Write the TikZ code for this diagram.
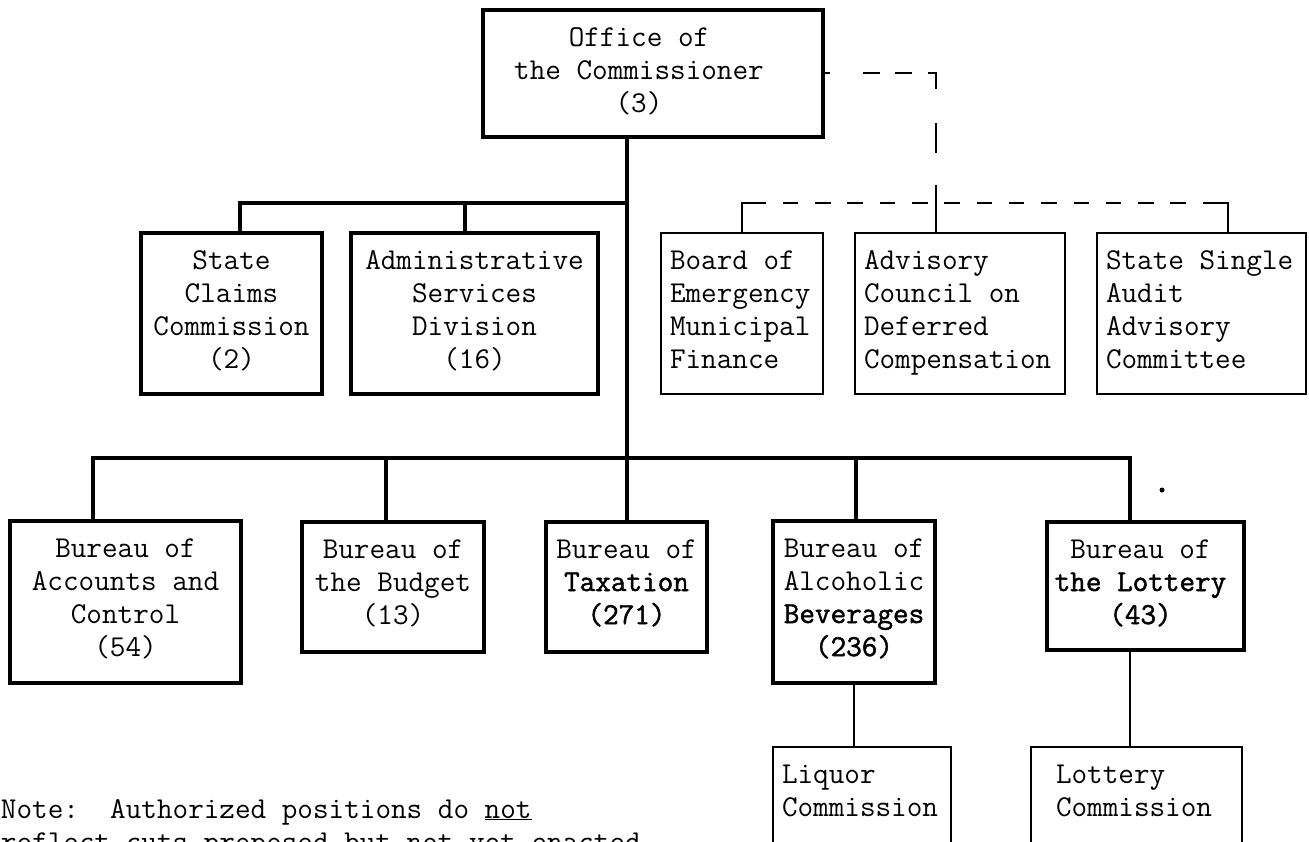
\documentclass[tikz,border=0pt]{standalone}
\usepackage{fontspec}
\newfontfamily\chartfont{Latin Modern Mono}[AutoFakeBold=1.6]
% box contents: width, height, shift (centred) or left pad (ragged), text
\newcommand{\boxctr}[4]{\parbox[t][#2pt][t]{#1pt}{\centering\rightskip=#3pt plus 1fil\relax\rule{0pt}{36pt}#4\par}}
\newcommand{\boxlft}[4]{\parbox[t][#2pt][t]{#1pt}{\raggedright\leftskip=#3pt\relax\rule{0pt}{36pt}#4\par}}
\begin{document}
\begin{tikzpicture}[x=1pt,y=-1pt,
  every node/.style={inner sep=0pt, outer sep=0pt},
  txt/.style={font=\chartfont\fontsize{30.3}{33}\selectfont},
  unitbox/.style={txt, draw, anchor=north west},
  heavybox/.style={unitbox, line width=4.5pt},
  lightbox/.style={unitbox, line width=2.2pt},
  heavyline/.style={line width=4.5pt},
  lightline/.style={line width=2pt},
  dashline/.style={line width=2.2pt, dash pattern=on 15.5pt off 16.8pt, dash phase=15.5pt},
]
\fill[white] (0,0) rectangle (1309,841);
\useasboundingbox (0,0) rectangle (1309,841);

% top office
\node[heavybox] (office) at (483,10) {\boxctr{340}{127}{28}{Office of\\the Commissioner\\(3)}};

% upper row
\node[heavybox] (sc)  at (141,233) {\boxctr{181}{161}{0}{State\\Claims\\Commission\\(2)}};
\node[heavybox] (adm) at (351,233) {\boxctr{247}{161}{0}{Administrative\\Services\\Division\\(16)}};
\node[lightbox] (board) at (661,233) {\boxlft{162}{161}{9}{Board of\\Emergency\\Municipal\\Finance}};
\node[lightbox] (adv)   at (855,233) {\boxlft{210}{161}{9}{Advisory\\Council on\\Deferred\\Compensation}};
\node[lightbox] (sss)   at (1097,233) {\boxlft{209}{161}{9}{State Single\\Audit\\Advisory\\Committee}};

% lower row
\node[heavybox] (acc) at (10,521)  {\boxctr{231}{162}{0}{Bureau of\\Accounts and\\Control\\(54)}};
\node[heavybox] (bud) at (302,522) {\boxctr{182}{130}{0}{Bureau of\\the Budget\\(13)}};
\node[heavybox] (tax) at (546,522) {\boxctr{161}{130}{0}{Bureau of\\\textbf{Taxation}\\\textbf{(271)}}};
\node[heavybox] (alc) at (773,521) {\boxctr{162}{162}{0}{Bureau of\\Alcoholic\\\textbf{Beverages}\\\textbf{(236)}}};
\node[heavybox] (lot) at (1047,522) {\boxctr{197}{128}{10}{Bureau of\\\textbf{the Lottery}\\\textbf{(43)}}};

% commissions
\node[lightbox] (liq)  at (773,747)  {\boxlft{178}{130}{9}{Liquor\\Commission}};
\node[lightbox] (lotc) at (1031,747) {\boxlft{211}{130}{25}{Lottery\\Commission}};

% junction points
\coordinate (ju) at (627,203);
\coordinate (jl) at (627,458);
\coordinate (scd) at (240,203);
\coordinate (admd) at (465,203);
\coordinate (accd) at (93,458);
\coordinate (budd) at (386,458);
\coordinate (alcd) at (856,458);
\coordinate (lotd) at (1130,458);
\coordinate (dc) at (936,73);
\coordinate (dadv) at (936,203);
\coordinate (dbd) at (742,203);
\coordinate (dh1) at (766,203);
\coordinate (dh2) at (1203,203);
\coordinate (dsd) at (1228,203);

% solid line of authority
\draw[heavyline] (office.south -| ju) -- (tax.north -| ju);
\draw[heavyline] (sc.north -| scd) |- (ju);
\draw[heavyline] (adm.north -| admd) -- (admd);
\draw[heavyline] (acc.north -| accd) |- (lotd) -- (lot.north -| lotd);
\draw[heavyline] (bud.north -| budd) -- (budd);
\draw[heavyline] (alc.north -| alcd) -- (alcd);

\draw[lightline] (alc.south) -- (alc.south |- liq.north);
\draw[lightline] (lot.south -| lotd) -- (lotc.north -| lotd);

% advisory bodies
\draw[line width=2.2pt, dash pattern=on 7pt off 33pt on 17pt off 15pt on 17pt off 16pt on 24pt off 34pt on 30pt off 32pt on 40pt off 0pt]
  (office.east |- dc) -- (dc) -- (dadv);
\draw[lightline] (dadv) -- (adv.north -| dadv);
\draw[lightline] (board.north -| dbd) |- (dh1);
\draw[dashline] (dh1) -- (dh2);
\draw[lightline] (dh2) -| (sss.north -| dsd);

\fill (1162,490) circle (2.5pt);

% footnote
\node[txt, anchor=base west, align=left] (note) at (1,851)
  {Note:\ \ Authorized positions do \underline{not}\\reflect cuts proposed but not yet enacted};
\end{tikzpicture}
\end{document}
